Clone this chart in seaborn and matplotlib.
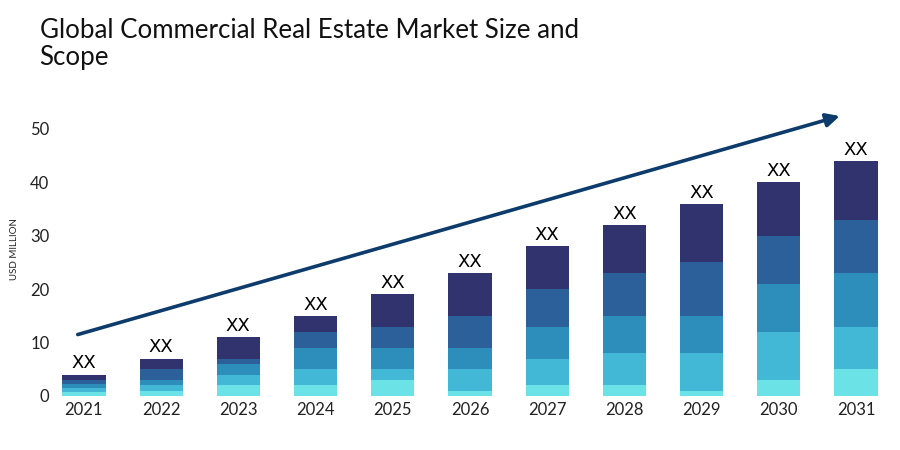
import numpy as np
import pandas as pd
import matplotlib.pyplot as plt
import seaborn as sns

# values, stacked bottom -> top
years = ['2021', '2022', '2023', '2024', '2025', '2026', '2027', '2028', '2029', '2030', '2031']
seg1 = [0.8, 1, 2, 2, 3, 1, 2, 2, 1, 3, 5]      # cyan (bottom)
seg2 = [0.7, 1, 2, 3, 2, 4, 5, 6, 7, 9, 8]
seg3 = [0.7, 1, 2, 4, 4, 4, 6, 7, 7, 9, 10]
seg4 = [0.8, 2, 1, 3, 4, 6, 7, 8, 10, 9, 10]
seg5 = [1.0, 2, 4, 3, 6, 8, 8, 9, 11, 10, 11]   # navy (top)
bar_label = 'XX'
seg_colors = ['#6be3e6', '#42b7d6', '#2d8dbb', '#2c609b', '#30336e']

sns.set_theme(style='white')
plt.rcParams['font.family'] = ['Lato', 'DejaVu Sans']

df = pd.DataFrame({'year': years, 's1': seg1, 's2': seg2, 's3': seg3, 's4': seg4, 's5': seg5})
cols = ['s1', 's2', 's3', 's4', 's5']

fig = plt.figure(figsize=(9, 4.5), dpi=100)
ax = fig.add_axes([0.061, 0.12, 0.933, 0.653])

# draw stacked bars: each layer is the cumulative sum, drawn from tallest down
cum = df[cols].cumsum(axis=1)
for i in reversed(range(len(cols))):
    sns.barplot(x=df['year'], y=cum[cols[i]], color=seg_colors[i], width=0.56,
                saturation=1, ax=ax, linewidth=0)

totals = cum['s5'].values
for i, t in enumerate(totals):
    ax.text(i, t + 0.4, bar_label, ha='center', va='bottom', fontsize=13,
            family=['DejaVu Sans'], color='black')

# trend arrow
ax.annotate('', xy=(9.79, 52.4), xytext=(-0.08, 11.5),
            arrowprops=dict(arrowstyle='-|>', color='#0d3b6b', lw=2.6,
                            mutation_scale=20, shrinkA=0, shrinkB=0))

ax.set_xlim(-0.376, 10.5)
ax.set_ylim(0, 55)
ax.set_yticks([0, 10, 20, 30, 40, 50])
ax.tick_params(axis='both', labelsize=12, colors='#222222', length=0, pad=4)
ax.set_xlabel('')
ax.set_ylabel('USD MILLION', fontsize=7, color='#222222')
ax.yaxis.set_label_coords(-0.043, 0.5)
sns.despine(ax=ax, left=True, bottom=True)

fig.text(0.044, 0.845, 'Global Commercial Real Estate Market Size and\nScope',
         fontsize=18.6, ha='left', va='bottom', color='#111111', linespacing=1.1)

fig.savefig('out.png', dpi=100)
